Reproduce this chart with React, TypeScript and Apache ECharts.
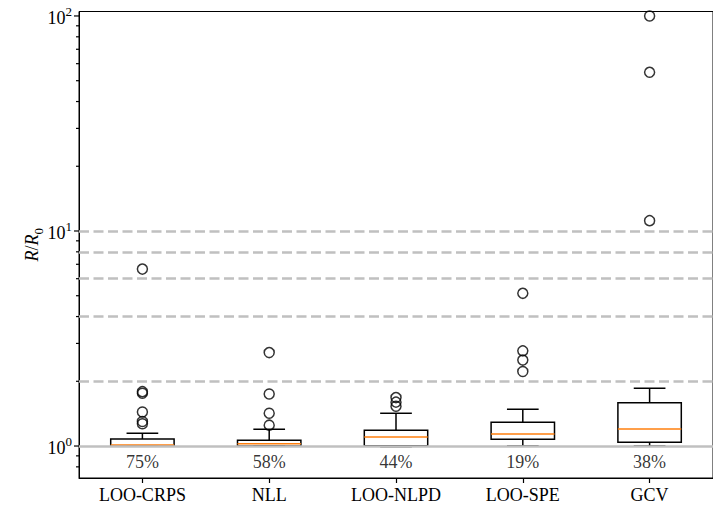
import React, { useEffect, useRef } from 'react';
import * as echarts from 'echarts';

const categories = ['LOO-CRPS', 'NLL', 'LOO-NLPD', 'LOO-SPE', 'GCV'];
const whiskerLow = [1.0, 1.0, 0.993, 1.0, 1.0];
const quartile1 = [1.0, 1.0, 1.004, 1.074, 1.04];
const medians = [1.012, 1.025, 1.1, 1.137, 1.2];
const quartile3 = [1.078, 1.065, 1.183, 1.289, 1.59];
const whiskerHigh = [1.146, 1.196, 1.42, 1.481, 1.855];

const outliersCRPS = [6.65, 1.79, 1.76, 1.44, 1.3, 1.27];
const outliersNLL = [2.72, 1.745, 1.42, 1.25];
const outliersNLPD = [1.68, 1.6, 1.53];
const outliersSPE = [5.13, 2.77, 2.51, 2.22];
const outliersGCV = [100, 54.7, 11.17];
const outlierGroups = [outliersCRPS, outliersNLL, outliersNLPD, outliersSPE, outliersGCV];

const percentages = [75, 58, 44, 19, 38];
const percentLabelLevel = 0.845;
const referenceLines = [2, 4, 6, 8, 10];
const baselineValue = 1;
const majorTicks = [1, 10, 100];
const minorTicks = [0.8, 0.9, 2, 3, 4, 5, 6, 7, 8, 9, 20, 30, 40, 50, 60, 70, 80, 90];
const yMin = 0.71;
const yMax = 104.9;

const FONT = 'Liberation Serif';

export default function App() {
  const ref = useRef<HTMLDivElement>(null);
  useEffect(() => {
    if (!ref.current) return;
    const chart = echarts.init(ref.current, null, { renderer: 'svg' });

    const boxData = categories.map((_, i) => [
      i,
      whiskerLow[i],
      quartile1[i],
      medians[i],
      quartile3[i],
      whiskerHigh[i],
    ]);
    const outlierData: number[][] = [];
    outlierGroups.forEach((g, i) => g.forEach((v) => outlierData.push([i, v])));
    const percentData = percentages.map((p, i) => [i, percentLabelLevel, p]);
    const tickData = [
      ...majorTicks.map((v) => [0, v, 5]),
      ...minorTicks.map((v) => [0, v, 3]),
    ];

    const option: any = {
      animation: false,
      backgroundColor: '#fff',
      grid: {
        left: 79,
        top: 11.5,
        width: 643,
        height: 466.5,
        show: true,
        borderColor: '#000',
        borderWidth: 1,
      },
      xAxis: {
        type: 'category',
        data: categories,
        boundaryGap: true,
        axisLine: { lineStyle: { color: '#000', width: 1 } },
        axisTick: { show: true, alignWithLabel: true, length: 5, lineStyle: { color: '#000', width: 1.2 } },
        axisLabel: { color: '#000', fontFamily: FONT, fontSize: 18, margin: 8 },
        splitLine: { show: false },
      },
      yAxis: {
        type: 'log',
        logBase: 10,
        min: yMin,
        max: yMax,
        name: '{i|R}{n|/}{i|R}{s|0}',
        nameLocation: 'middle',
        nameGap: 38,
        nameMoveOverlap: false,
        nameTextStyle: {
          rich: {
            i: { fontFamily: FONT, fontStyle: 'italic', fontSize: 18, color: '#000', verticalAlign: 'bottom', lineHeight: 22 },
            n: { fontFamily: FONT, fontSize: 18, color: '#000', verticalAlign: 'bottom', lineHeight: 22 },
            s: { fontFamily: FONT, fontSize: 13, color: '#000', verticalAlign: 'bottom', lineHeight: 22, padding: [0, 0, -4, 0] },
          },
        },
        axisLine: { show: true, lineStyle: { color: '#000', width: 1 } },
        axisTick: { show: false },
        axisLabel: {
          customValues: majorTicks,
          margin: 7,
          formatter: (v: number) => `{b|10}{s|${Math.round(Math.log10(v))}}`,
          rich: {
            b: { fontFamily: FONT, fontSize: 18, color: '#000', verticalAlign: 'bottom', lineHeight: 22 },
            s: { fontFamily: FONT, fontSize: 13, color: '#000', verticalAlign: 'top', lineHeight: 22 },
          },
        },
        splitLine: { show: false },
        minorTick: { show: false },
      },
      series: [
        {
          type: 'scatter',
          z: 1,
          data: percentData,
          symbolSize: 0,
          silent: true,
          label: {
            show: true,
            position: 'inside',
            formatter: (p: any) => `${p.value[2]}%`,
            fontFamily: FONT,
            fontSize: 18,
            color: '#000',
          },
          markLine: {
            silent: true,
            symbol: ['none', 'none'],
            label: { show: false },
            lineStyle: { color: '#c0c0c0', width: 2.5, type: [10, 4.5] },
            data: [
              { yAxis: baselineValue, lineStyle: { type: 'solid', color: '#c0c0c0', width: 2.5 } },
              ...referenceLines.map((v) => ({ yAxis: v })),
            ],
          },
        },
        {
          type: 'custom',
          z: 5,
          clip: false,
          silent: true,
          data: tickData,
          encode: { x: 0, y: 1 },
          renderItem: (params: any, api: any) => {
            const p = api.coord([0, api.value(1)]);
            const bw = api.size([1, 1])[0];
            const left = p[0] - bw / 2;
            const len = api.value(2);
            return {
              type: 'line',
              shape: { x1: left - len, y1: p[1], x2: left, y2: p[1] },
              style: { stroke: '#000', lineWidth: 1.2 },
            };
          },
        },
        {
          type: 'custom',
          z: 3,
          data: boxData,
          encode: { x: 0, y: [1, 2, 3, 4, 5] },
          renderItem: (params: any, api: any) => {
            const idx = api.value(0);
            const bw = api.size([1, 1])[0];
            const boxW = bw * 0.5;
            const capW = boxW * 0.5;
            const pLow = api.coord([idx, api.value(1)]);
            const pQ1 = api.coord([idx, api.value(2)]);
            const pMed = api.coord([idx, api.value(3)]);
            const pQ3 = api.coord([idx, api.value(4)]);
            const pHigh = api.coord([idx, api.value(5)]);
            const cx = pMed[0];
            const stroke = { stroke: '#000', lineWidth: 1.5, fill: 'none' };
            return {
              type: 'group',
              children: [
                { type: 'line', shape: { x1: cx, y1: pQ3[1], x2: cx, y2: pHigh[1] }, style: stroke },
                { type: 'line', shape: { x1: cx, y1: pLow[1], x2: cx, y2: pQ1[1] }, style: stroke },
                { type: 'line', shape: { x1: cx - capW / 2, y1: pHigh[1], x2: cx + capW / 2, y2: pHigh[1] }, style: stroke },
                { type: 'line', shape: { x1: cx - capW / 2, y1: pLow[1], x2: cx + capW / 2, y2: pLow[1] }, style: stroke },
                {
                  type: 'rect',
                  shape: { x: cx - boxW / 2, y: pQ3[1], width: boxW, height: pQ1[1] - pQ3[1] },
                  style: stroke,
                },
                {
                  type: 'line',
                  shape: { x1: cx - boxW / 2, y1: pMed[1], x2: cx + boxW / 2, y2: pMed[1] },
                  style: { stroke: '#ff7f0e', lineWidth: 1.5 },
                },
              ],
            };
          },
        },
        {
          type: 'scatter',
          z: 4,
          data: outlierData,
          symbol: 'circle',
          symbolSize: 10,
          itemStyle: { color: 'rgba(0,0,0,0)', borderColor: '#000', borderWidth: 1.5 },
        },
      ],
    };
    chart.setOption(option);
    return () => chart.dispose();
  }, []);
  return <div ref={ref} style={{ position: 'absolute', left: 0, top: 0, width: 713, height: 516 }} />;
}
